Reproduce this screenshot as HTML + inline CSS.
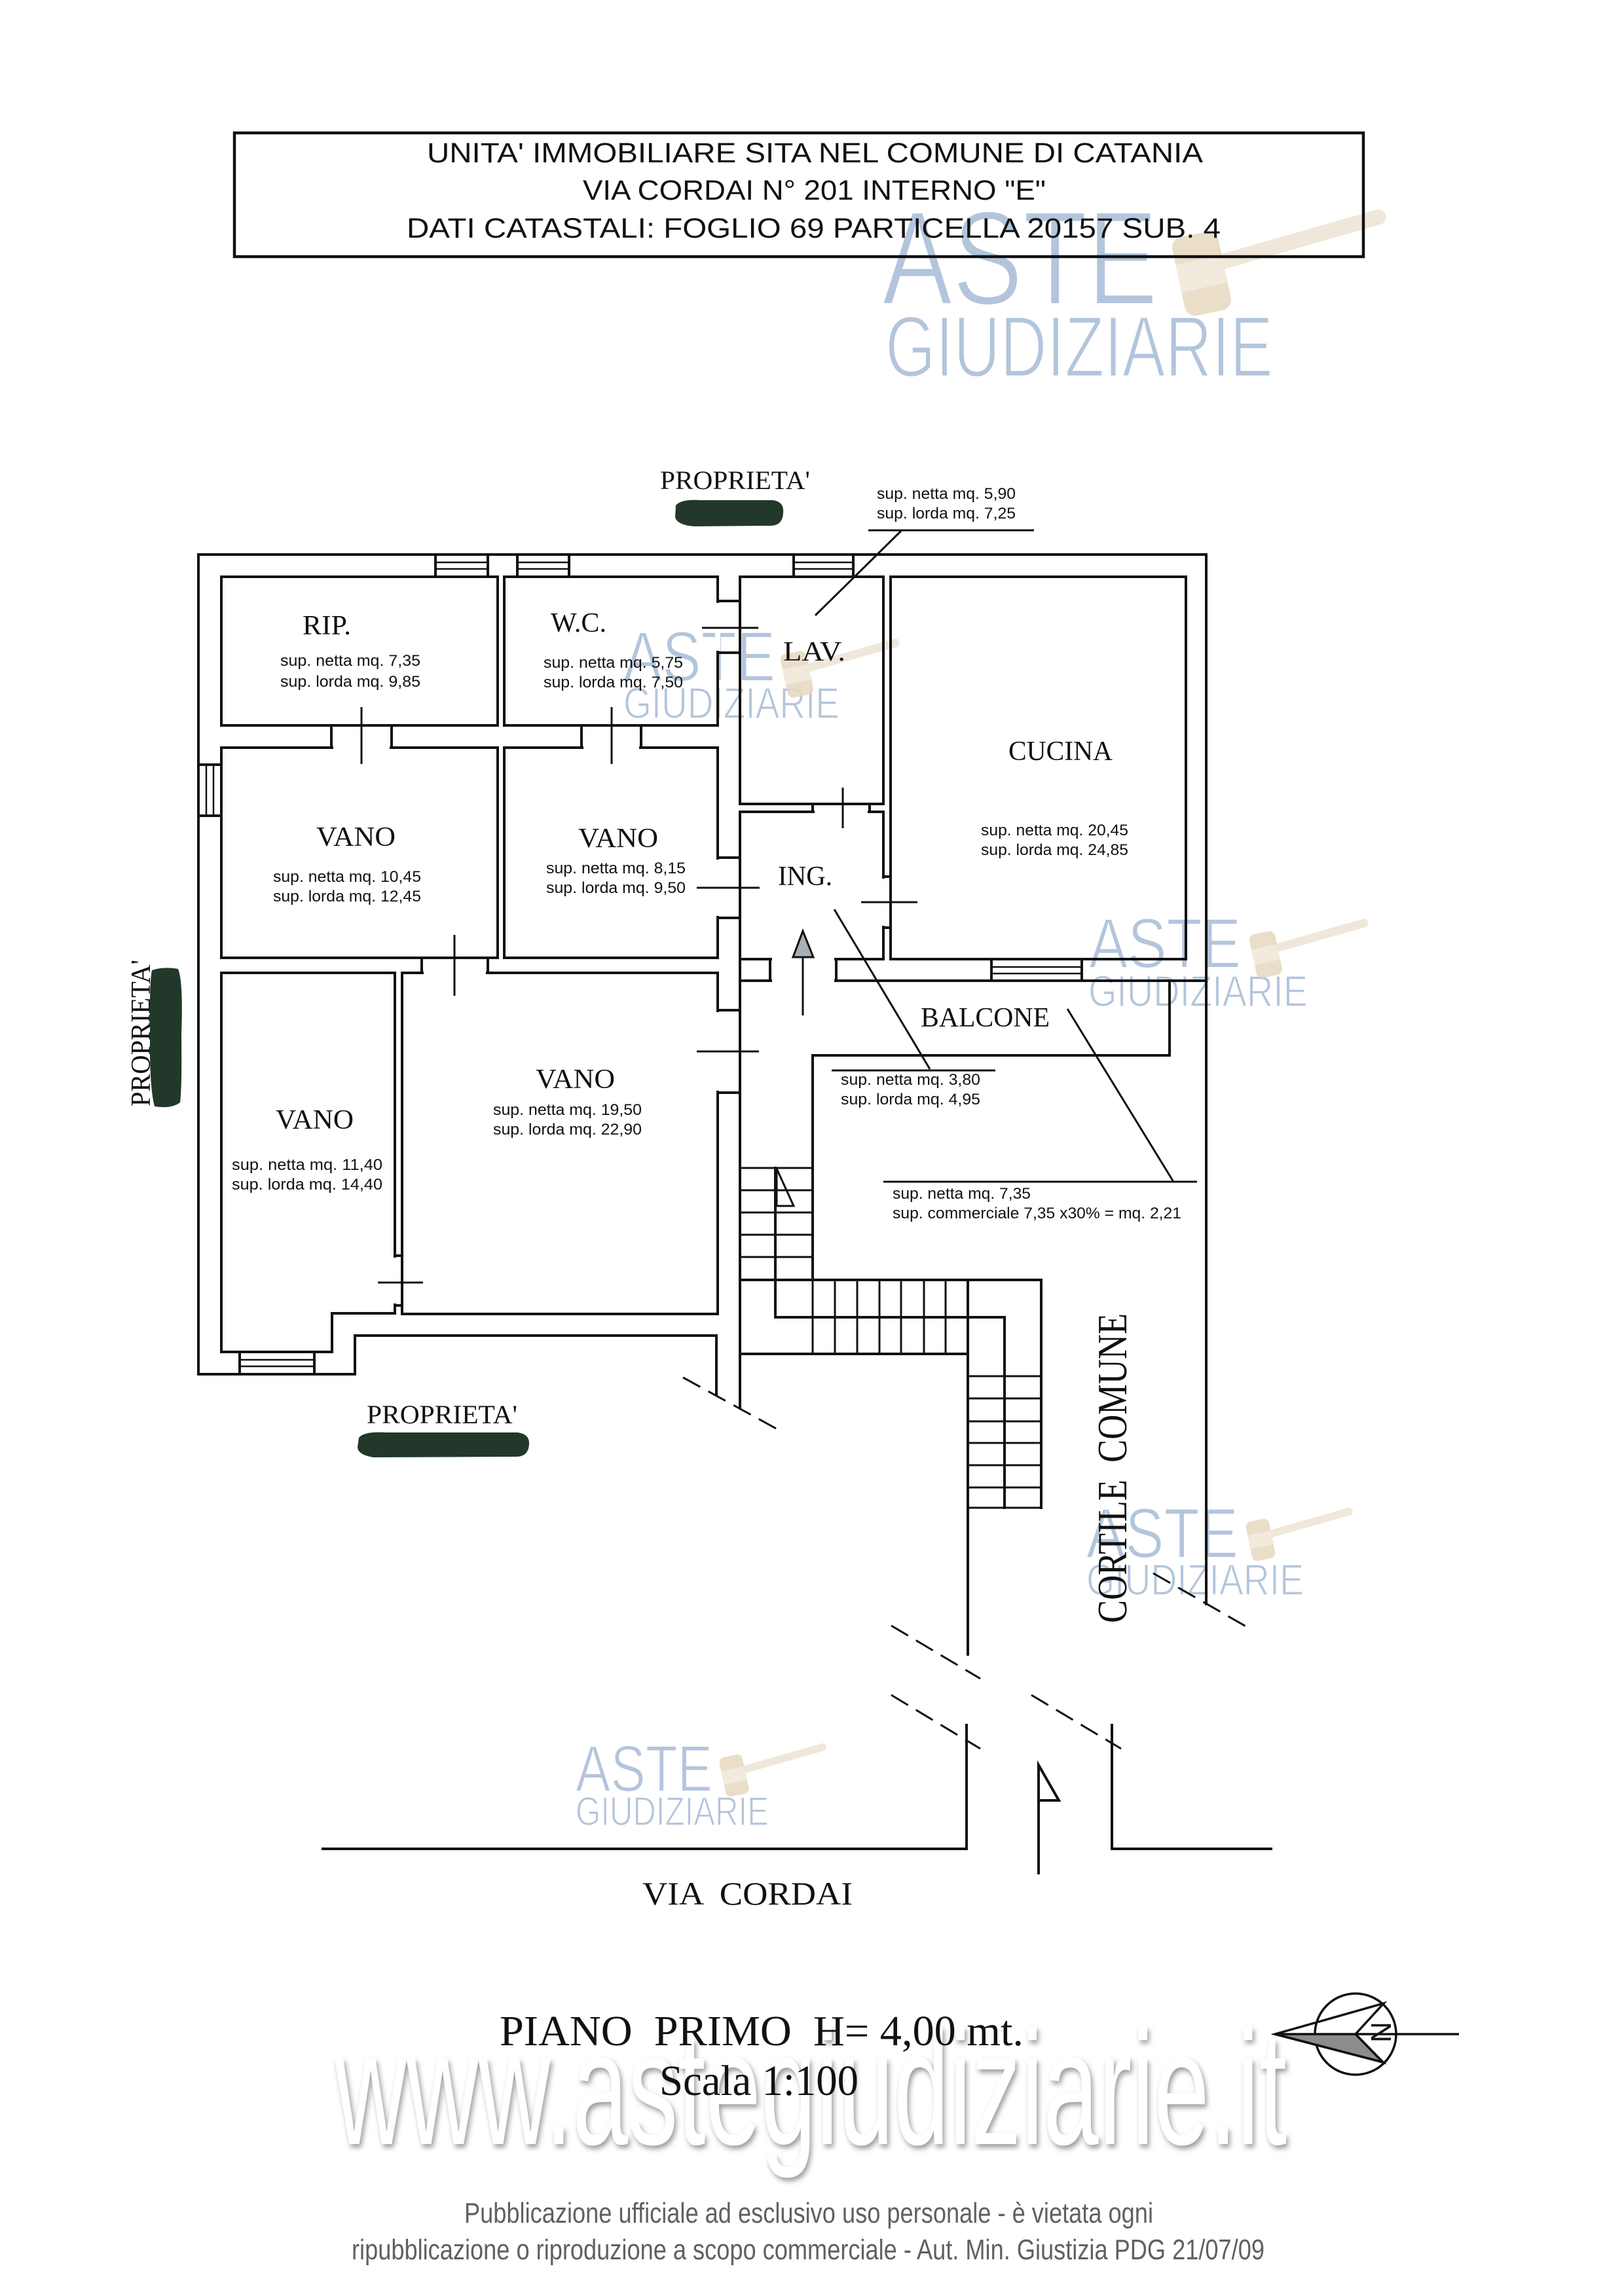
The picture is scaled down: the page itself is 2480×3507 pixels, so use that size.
<!DOCTYPE html>
<html><head><meta charset="utf-8">
<style>html,body{margin:0;padding:0;background:#fff}svg{display:block}</style>
</head><body>
<svg width="2480" height="3507" viewBox="0 0 2480 3507" xmlns="http://www.w3.org/2000/svg">
<defs>
<filter id="sh" x="-5%" y="-30%" width="112%" height="160%">
<feGaussianBlur in="SourceAlpha" stdDeviation="4"/>
<feOffset dx="3" dy="5" result="b"/>
<feFlood flood-color="#8a8a8a" flood-opacity="0.85"/>
<feComposite in2="b" operator="in"/>
<feMerge><feMergeNode/><feMergeNode in="SourceGraphic"/></feMerge>
</filter>
<g id="gavel">
<path d="M10,-8 L150,-48" stroke="#ece2d2" stroke-width="13" stroke-linecap="round" opacity="0.8"/>
<g transform="rotate(-12)">
<rect x="-20" y="-34" width="40" height="68" rx="9" fill="#e6d8c0" opacity="0.85"/>
<rect x="-20" y="-12" width="40" height="24" fill="#f2ebdf" opacity="0.9"/>
</g>
</g>
</defs>
<rect width="2480" height="3507" fill="#fff"/>

<!-- Watermarks ASTE GIUDIZIARIE -->
<g font-family="Liberation Sans, sans-serif" fill="#b3c5dc" stroke="#fff">
<text x="1347" y="465" font-size="205" stroke-width="4" textLength="421" lengthAdjust="spacingAndGlyphs">ASTE</text>
<text x="1352" y="575" font-size="132" stroke-width="3" textLength="592" lengthAdjust="spacingAndGlyphs">GIUDIZIARIE</text>
<text x="952" y="1040" font-size="108" stroke-width="2" textLength="232" lengthAdjust="spacingAndGlyphs">ASTE</text>
<text x="952" y="1097" font-size="67" stroke-width="1.5" textLength="330" lengthAdjust="spacingAndGlyphs">GIUDIZIARIE</text>
<text x="1663" y="1478" font-size="108" stroke-width="2" textLength="232" lengthAdjust="spacingAndGlyphs">ASTE</text>
<text x="1662" y="1537" font-size="67" stroke-width="1.5" textLength="335" lengthAdjust="spacingAndGlyphs">GIUDIZIARIE</text>
<text x="1659" y="2379" font-size="108" stroke-width="2" textLength="232" lengthAdjust="spacingAndGlyphs">ASTE</text>
<text x="1659" y="2436" font-size="67" stroke-width="1.5" textLength="332" lengthAdjust="spacingAndGlyphs">GIUDIZIARIE</text>
<text x="879" y="2736" font-size="100" stroke-width="2" textLength="209" lengthAdjust="spacingAndGlyphs">ASTE</text>
<text x="879" y="2788" font-size="62" stroke-width="1.5" textLength="295" lengthAdjust="spacingAndGlyphs">GIUDIZIARIE</text>
</g>
<use href="#gavel" transform="translate(1835,418) scale(1.8)"/>
<use href="#gavel" transform="translate(1217,1030)"/>
<use href="#gavel" transform="translate(1933,1458)"/>
<use href="#gavel" transform="translate(1925,2352) scale(0.9)"/>
<use href="#gavel" transform="translate(1121,2712) scale(0.9)"/>

<!-- Title box -->
<rect x="358" y="203" width="1724" height="189" fill="none" stroke="#111" stroke-width="4.5"/>
<g font-family="Liberation Sans, sans-serif" font-size="43" fill="#111">
<text x="652" y="248" textLength="1185" lengthAdjust="spacingAndGlyphs">UNITA' IMMOBILIARE SITA NEL COMUNE DI CATANIA</text>
<text x="890" y="305" textLength="707" lengthAdjust="spacingAndGlyphs">VIA CORDAI N° 201 INTERNO "E"</text>
<text x="621" y="363" textLength="1243" lengthAdjust="spacingAndGlyphs">DATI CATASTALI: FOGLIO 69 PARTICELLA 20157 SUB. 4</text>
</g>

<!-- Redaction blobs -->
<g fill="#22382a">
<path d="M1032,772 Q1040,762 1070,764 L1180,764 Q1198,766 1196,784 Q1195,802 1178,803 L1060,804 Q1034,802 1031,790 Z"/>
<path d="M548,2196 Q556,2186 590,2188 L790,2188 Q809,2190 808,2206 Q807,2225 788,2225 L570,2226 Q546,2222 546,2210 Z"/>
<path d="M232,1482 Q250,1476 272,1480 Q280,1500 277,1580 Q278,1660 275,1684 Q262,1694 236,1690 Q228,1660 229,1580 Q228,1500 232,1482 Z"/>
</g>

<!-- Plan walls -->
<g stroke="#111" stroke-width="4" fill="none" stroke-linecap="square">
<path d="M303,847 H1842 V2450"/>
<path d="M303,847 V2099 H542 V2040 H1094 V2129"/>
<rect x="338" y="881" width="422" height="227"/>
<rect x="770" y="881" width="326" height="227"/>
<rect x="338" y="1142" width="422" height="321"/>
<rect x="770" y="1142" width="326" height="321"/>
<rect x="1130" y="881" width="219" height="347"/>
<rect x="1130" y="1240" width="219" height="225"/>
<rect x="1360" y="881" width="451" height="584"/>
<path d="M338,1486 H603 V2006 H507 V2065 H338 Z"/>
<rect x="614" y="1486" width="482" height="521"/>
<path d="M1130,1498 H1842"/>
<path d="M1130,1465 V2149"/>
</g>

<!-- erase door openings -->
<g fill="#fff">
<rect x="509" y="1138" width="86" height="8"/>
<rect x="891" y="1138" width="85" height="8"/>
<rect x="647" y="1482" width="95" height="8"/>
<rect x="1092" y="921" width="8" height="73"/>
<rect x="1244" y="1236" width="81" height="8"/>
<rect x="1345" y="1342" width="8" height="72"/>
<rect x="1092" y="1313" width="8" height="86"/>
<rect x="1092" y="1546" width="8" height="120"/>
<rect x="599" y="1921" width="8" height="70"/>
<rect x="1179" y="1461" width="95" height="41"/>
</g>

<g stroke="#111" stroke-width="4" fill="none" stroke-linecap="square">
<path d="M506,1108 V1142 M598,1108 V1142"/>
<path d="M888,1108 V1142 M979,1108 V1142"/>
<path d="M644,1463 V1486 M745,1463 V1486"/>
<path d="M1096,918 H1130 M1096,997 H1130"/>
<path d="M1241,1228 V1240 M1328,1228 V1240"/>
<path d="M1349,1339 H1360 M1349,1417 H1360"/>
<path d="M1096,1310 H1130 M1096,1402 H1130"/>
<path d="M1096,1543 H1130 M1096,1669 H1130"/>
<path d="M603,1918 H614 M603,1994 H614"/>
<path d="M1176,1465 V1498 M1277,1465 V1498"/>
<rect x="665" y="847" width="80" height="34"/>
<rect x="790" y="847" width="79" height="34"/>
<rect x="1212" y="847" width="91" height="34"/>
<rect x="1514" y="1465" width="138" height="33"/>
<rect x="303" y="1168" width="35" height="78"/>
<rect x="366" y="2065" width="114" height="34"/>
</g>
<g stroke="#111" stroke-width="2.5" fill="none">
<path d="M665,859 H745 M665,869 H745 M790,859 H869 M790,869 H869 M1212,859 H1303 M1212,869 H1303"/>
<path d="M1514,1477 H1652 M1514,1487 H1652"/>
<path d="M315,1168 V1246 M326,1168 V1246"/>
<path d="M366,2077 H480 M366,2087 H480"/>
</g>

<!-- door marks -->
<g stroke="#111" stroke-width="3" fill="none">
<path d="M552,1080 V1167"/>
<path d="M934,1080 V1167"/>
<path d="M694,1428 V1521"/>
<path d="M1072,959 H1158"/>
<path d="M1287,1203 V1265"/>
<path d="M1315,1378 H1401"/>
<path d="M1064,1356 H1160"/>
<path d="M1064,1606 H1159"/>
<path d="M577,1959 H646"/>
<path d="M1226,1462 V1551"/>
</g>
<path d="M1211,1462 L1226,1422 L1242,1462 Z" fill="#a9afb8" stroke="#111" stroke-width="3"/>

<!-- balcony & stairs -->
<g stroke="#111" stroke-width="4" fill="none" stroke-linecap="square">
<path d="M1786,1498 V1612 H1241 V1955"/>
<path d="M1130,1955 H1590 V2303"/>
<path d="M1184,1784 V2012 H1534 V2303"/>
<path d="M1130,2068 H1478"/>
<path d="M1478,1955 V2527"/>
</g>
<g stroke="#111" stroke-width="3" fill="none">
<path d="M1130,1784 H1241 M1130,1818 H1241 M1130,1852 H1241 M1130,1886 H1241 M1130,1920 H1241"/>
<path d="M1241,1955 V2068 M1275,1955 V2068 M1309,1955 V2068 M1343,1955 V2068 M1376,1955 V2068 M1411,1955 V2068 M1444,1955 V2068"/>
<path d="M1478,2102 H1590 M1478,2136 H1590 M1478,2171 H1590 M1478,2204 H1590 M1478,2238 H1590 M1478,2272 H1590 M1478,2303 H1590"/>
<path d="M1186,1785 L1212,1842 L1186,1842 Z"/>
<path d="M1245,940 L1376,811 M1326,810 H1579"/>
<path d="M1274,1389 L1420,1633 M1270,1635 H1520"/>
<path d="M1630,1541 L1792,1805 M1349,1805 H1828"/>
<g stroke-dasharray="30 14">
<path d="M1043,2104 L1187,2183"/>
<path d="M1761,2403 L1904,2485"/>
<path d="M1361,2483 L1497,2564"/>
<path d="M1361,2589 L1497,2671"/>
<path d="M1575,2589 L1712,2671"/>
</g>
</g>
<g stroke="#111" stroke-width="4" fill="none" stroke-linecap="square">
<path d="M1476,2635 V2824 H493"/>
<path d="M1698,2635 V2824 H1941"/>
<path d="M1586,2861 V2696 L1617,2750 H1586"/>
</g>

<!-- Room labels -->
<g font-family="Liberation Serif, serif" font-size="42" fill="#111">
<text x="462" y="969" textLength="74" lengthAdjust="spacingAndGlyphs">RIP.</text>
<text x="841" y="965" textLength="85" lengthAdjust="spacingAndGlyphs">W.C.</text>
<text x="1196" y="1009" textLength="95" lengthAdjust="spacingAndGlyphs">LAV.</text>
<text x="1540" y="1161" textLength="159" lengthAdjust="spacingAndGlyphs">CUCINA</text>
<text x="1188" y="1352" textLength="83" lengthAdjust="spacingAndGlyphs">ING.</text>
<text x="483" y="1292" textLength="121" lengthAdjust="spacingAndGlyphs">VANO</text>
<text x="883" y="1294" textLength="122" lengthAdjust="spacingAndGlyphs">VANO</text>
<text x="421" y="1724" textLength="119" lengthAdjust="spacingAndGlyphs">VANO</text>
<text x="818" y="1662" textLength="121" lengthAdjust="spacingAndGlyphs">VANO</text>
<text x="1406" y="1568" textLength="197" lengthAdjust="spacingAndGlyphs">BALCONE</text>
<text x="1008" y="747" font-size="40" textLength="229" lengthAdjust="spacingAndGlyphs">PROPRIETA'</text>
<text x="560" y="2174" font-size="40" textLength="230" lengthAdjust="spacingAndGlyphs">PROPRIETA'</text>
<text transform="translate(229,1690) rotate(-90)" font-size="42" textLength="224" lengthAdjust="spacingAndGlyphs">PROPRIETA'</text>
<text transform="translate(1720,2479) rotate(-90)" font-size="64" textLength="473" lengthAdjust="spacingAndGlyphs" style="white-space:pre">CORTILE  COMUNE</text>
<text x="981" y="2909" font-size="50" textLength="321" lengthAdjust="spacingAndGlyphs" style="white-space:pre">VIA  CORDAI</text>
</g>

<!-- Area texts -->
<g font-family="Liberation Sans, sans-serif" font-size="24" fill="#111">
<text x="428" y="1017" textLength="214" lengthAdjust="spacingAndGlyphs">sup. netta mq. 7,35</text>
<text x="428" y="1049" textLength="214" lengthAdjust="spacingAndGlyphs">sup. lorda mq. 9,85</text>
<text x="830" y="1020" textLength="213" lengthAdjust="spacingAndGlyphs">sup. netta mq. 5,75</text>
<text x="830" y="1050" textLength="213" lengthAdjust="spacingAndGlyphs">sup. lorda mq. 7,50</text>
<text x="417" y="1347" textLength="226" lengthAdjust="spacingAndGlyphs">sup. netta mq. 10,45</text>
<text x="417" y="1377" textLength="226" lengthAdjust="spacingAndGlyphs">sup. lorda mq. 12,45</text>
<text x="834" y="1334" textLength="213" lengthAdjust="spacingAndGlyphs">sup. netta mq. 8,15</text>
<text x="834" y="1364" textLength="213" lengthAdjust="spacingAndGlyphs">sup. lorda mq. 9,50</text>
<text x="1339" y="762" textLength="212" lengthAdjust="spacingAndGlyphs">sup. netta mq. 5,90</text>
<text x="1339" y="792" textLength="212" lengthAdjust="spacingAndGlyphs">sup. lorda mq. 7,25</text>
<text x="1498" y="1276" textLength="225" lengthAdjust="spacingAndGlyphs">sup. netta mq. 20,45</text>
<text x="1498" y="1306" textLength="225" lengthAdjust="spacingAndGlyphs">sup. lorda mq. 24,85</text>
<text x="354" y="1787" textLength="230" lengthAdjust="spacingAndGlyphs">sup. netta mq. 11,40</text>
<text x="354" y="1817" textLength="230" lengthAdjust="spacingAndGlyphs">sup. lorda mq. 14,40</text>
<text x="753" y="1703" textLength="227" lengthAdjust="spacingAndGlyphs">sup. netta mq. 19,50</text>
<text x="753" y="1733" textLength="227" lengthAdjust="spacingAndGlyphs">sup. lorda mq. 22,90</text>
<text x="1284" y="1657" textLength="213" lengthAdjust="spacingAndGlyphs">sup. netta mq. 3,80</text>
<text x="1284" y="1687" textLength="213" lengthAdjust="spacingAndGlyphs">sup. lorda mq. 4,95</text>
<text x="1363" y="1831" textLength="211" lengthAdjust="spacingAndGlyphs">sup. netta mq. 7,35</text>
<text x="1363" y="1861" textLength="441" lengthAdjust="spacingAndGlyphs">sup. commerciale 7,35 x30% = mq. 2,21</text>
</g>

<!-- big site watermark -->
<text x="511" y="3275" font-family="Liberation Sans, sans-serif" font-size="248" fill="#fff" filter="url(#sh)" textLength="1454" lengthAdjust="spacingAndGlyphs">www.astegiudiziarie.it</text>

<!-- bottom title -->
<g font-family="Liberation Serif, serif" font-size="66" fill="#111">
<text x="763" y="3124" textLength="800" lengthAdjust="spacingAndGlyphs" style="white-space:pre">PIANO  PRIMO  H= 4,00 mt.</text>
<text x="1007" y="3200" textLength="304" lengthAdjust="spacingAndGlyphs">Scala 1:100</text>
</g>

<!-- compass -->
<g stroke="#111" stroke-width="3.5" fill="none">
<circle cx="2070" cy="3107" r="62"/>
<path d="M1947,3107 L2070,3107 L2112,3150 Z" fill="#8c8c8c"/>
<path d="M1947,3107 L2113,3060 L2070,3107 L2112,3150 Z"/>
<path d="M2070,3107 H2228"/>
</g>
<text transform="translate(2110,3104) rotate(90)" font-family="Liberation Sans, sans-serif" font-size="44" text-anchor="middle" y="16" fill="#111">N</text>

<!-- footer -->
<g font-family="Liberation Sans, sans-serif" font-size="44" fill="#606060">
<text x="709" y="3395" textLength="1052" lengthAdjust="spacingAndGlyphs">Pubblicazione ufficiale ad esclusivo uso personale - è vietata ogni</text>
<text x="537" y="3451" textLength="1394" lengthAdjust="spacingAndGlyphs">ripubblicazione o riproduzione a scopo commerciale - Aut. Min. Giustizia PDG 21/07/09</text>
</g>
</svg>
</body></html>
